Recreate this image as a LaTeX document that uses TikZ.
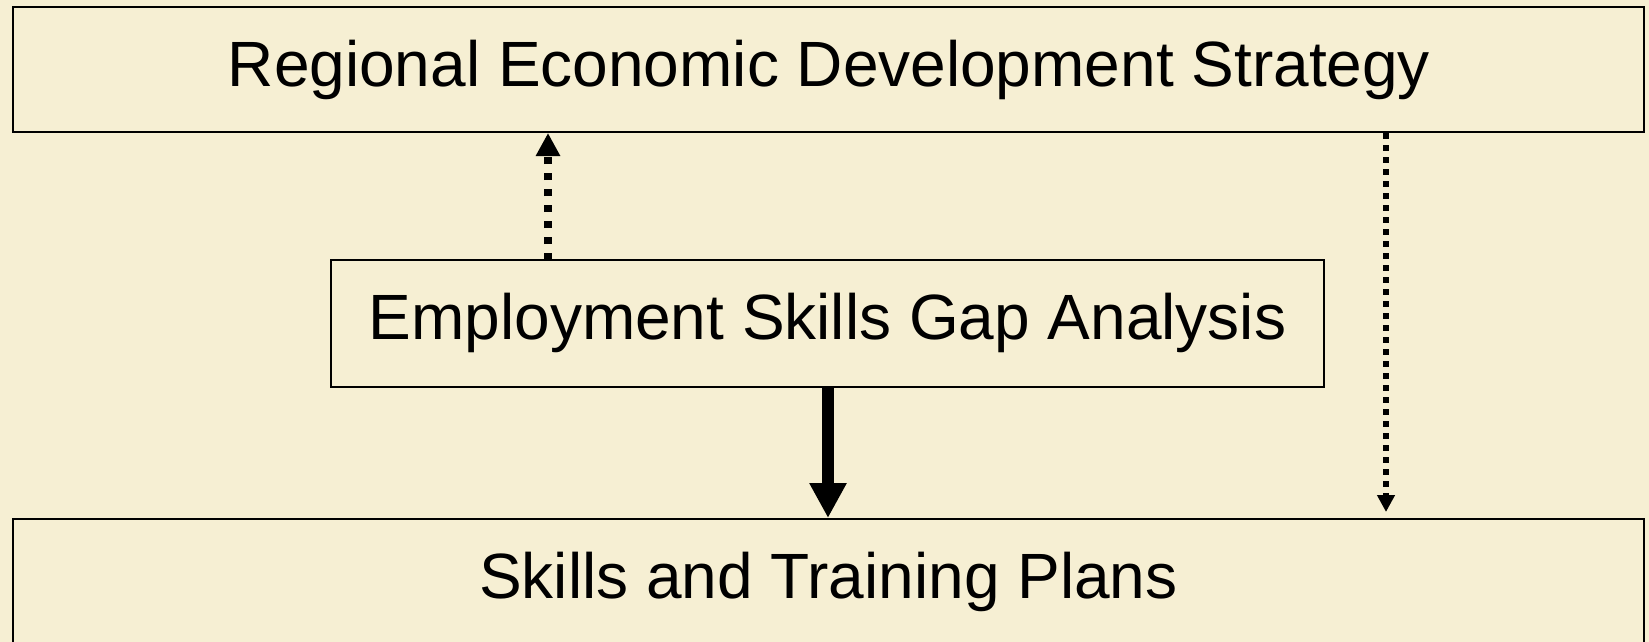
\documentclass[tikz,border=0pt]{standalone}
\usepackage{fontspec}
\setmainfont{Liberation Sans}
\usetikzlibrary{arrows.meta}
\definecolor{bg}{RGB}{246,239,211}
\begin{document}
\begin{tikzpicture}[x=1pt,y=-1pt,
  box/.style={draw=black,line width=2pt,fill=bg,inner sep=0pt},
  lbl/.style={anchor=base,inner sep=0pt,font=\fontsize{64}{70}\selectfont},
  thickarrow/.style={line width=12pt,-{Triangle[width=35pt,length=35pt]}},
  dotup/.style={line width=7.5pt,dash pattern=on 7.5pt off 8.5pt,-{Triangle[width=23pt,length=23pt]}},
  dotdown/.style={line width=6pt,dash pattern=on 6pt off 6pt,-{Triangle[width=17pt,length=17pt]}}]
\fill[bg] (0,0) rectangle (1649,642);
\useasboundingbox (0,0) rectangle (1649,642);
\clip (0,0) rectangle (1649,642);
\node[box,minimum width=1631pt,minimum height=125pt] (top) at (828.5,69.5) {};
\node[box,minimum width=993pt,minimum height=127pt] (mid) at (827.5,323.5) {};
\node[box,minimum width=1631pt,minimum height=160pt] (bot) at (828.5,599) {};
\node[lbl] (toptext) at (829,87) {Regional Economic Development Strategy};
\node[lbl] (midtext) at (827.5,339) {Employment Skills Gap Analysis};
\node[lbl] (bottext) at (828.5,598) {Skills and Training Plans};
\coordinate (upA) at (548,260);
\coordinate (upB) at (548,133);
\draw[dotup] (upA) -- (upB);
\draw[thickarrow] (mid.south -| 828,0) -- (bot.north -| 828,0);
\draw[dotdown] (top.south -| 1386,0) -- ([yshift=6pt]bot.north -| 1386,0);
\end{tikzpicture}
\end{document}
